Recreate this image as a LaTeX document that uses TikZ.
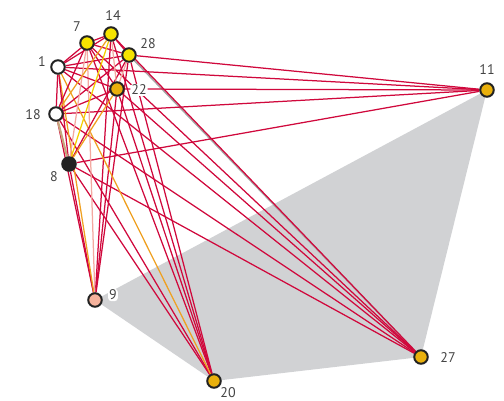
\documentclass[tikz,border=0pt]{standalone}
\usepackage{fontspec}
\setsansfont{PT Sans}
\usetikzlibrary{positioning, backgrounds}
\definecolor{edgered}{HTML}{D0083C}
\definecolor{edgeorange}{HTML}{EFA020}
\definecolor{edgeyellow}{HTML}{F4CF00}
\definecolor{edgepink}{HTML}{F3A8A0}
\definecolor{edgetan}{HTML}{C6A57C}
\definecolor{hullgray}{HTML}{D1D2D4}
\definecolor{nodeline}{HTML}{222222}
\definecolor{labelgray}{HTML}{444444}
\definecolor{lemon}{HTML}{F6E400}
\definecolor{amber}{HTML}{E9B00C}
\definecolor{salmon}{HTML}{F5B29C}

\begin{document}
\begin{tikzpicture}[x=1pt, y=-1pt,
  vertex/.style={circle, draw=nodeline, line width=2pt, minimum size=13.5pt, inner sep=0pt},
  tag/.style={font=\sffamily\fontsize{14}{14}\selectfont, text=labelgray, fill=white,
    rounded corners=3pt, inner sep=1pt},
  link/.style={draw=edgered, line width=1.25pt}]

  \useasboundingbox (0,0) rectangle (504,401);

  % vertices
  \node[vertex, fill=lemon] (v7)  at (87,43) {};
  \node[vertex, fill=lemon] (v14) at (111,34) {};
  \node[vertex, fill=lemon] (v28) at (129,55) {};
  \node[vertex, fill=white] (v1)  at (58,67) {};
  \node[vertex, fill=amber] (v22) at (117,89) {};
  \node[vertex, fill=white] (v18) at (56,114) {};
  \node[vertex, fill=nodeline] (v8) at (69,164) {};
  \node[vertex, fill=amber] (v11) at (487,90) {};
  \node[vertex, fill=salmon] (v9) at (95,300) {};
  \node[vertex, fill=amber] (v20) at (214,381) {};
  \node[vertex, fill=amber] (v27) at (421,357) {};

  % labels
  \node[tag] (l7)  at (77,27) {7};
  \node[tag] (l14) at (113,16) {14};
  \node[tag] (l28) at (148,44) {28};
  \node[tag] (l1)  at (42,62) {1};
  \node[tag] (l22) at (139,90) {22};
  \node[tag] (l18) at (33,115) {18};
  \node[tag] (l8)  at (54,177) {8};
  \node[tag] (l11) at (487,70) {11};
  \node[tag] (l9)  at (113,295) {9};
  \node[tag] (l20) at (228,393) {20};
  \node[tag] (l27) at (448,358) {27};

  \begin{scope}[on background layer]
    \fill[hullgray] (v9.center) -- (v20.center) -- (v27.center) -- (v11.center) -- cycle;

    % long connectors
    \draw[draw=gray!70, line width=1.5pt] (v28) -- (v27);
    \foreach \a/\b in {28/11, 1/11, 22/11, 18/11, 8/11,
                       1/27, 7/27, 14/27, 22/27, 18/27, 8/27,
                       8/20, 18/20, 7/20, 22/20, 14/20, 28/20,
                       8/9, 18/9, 14/9, 28/9, 22/9}
      \draw[link] (v\a) -- (v\b);
    \draw[link, draw=edgeorange] (v1) -- (v20);
    \draw[link, draw=edgeorange] (v1) -- (v9);
    \draw[link, draw=edgepink] (v7) -- (v9);

    % cluster
    \foreach \a/\b in {1/7, 1/14, 1/28, 1/22, 1/18, 7/14, 7/28, 7/22,
                       14/28, 7/18, 18/28, 18/22, 28/8, 1/8}
      \draw[link] (v\a) -- (v\b);
    \foreach \a/\b in {14/22, 28/22, 7/8}
      \draw[link, draw=edgepink] (v\a) -- (v\b);
    \foreach \a/\b in {22/8, 14/18}
      \draw[link, draw=edgeorange] (v\a) -- (v\b);
    \draw[link, draw=edgeyellow] (v14) -- (v8);
    \draw[link, draw=edgetan, line width=2.2pt] (v18) -- (v8);
  \end{scope}

\end{tikzpicture}
\end{document}
